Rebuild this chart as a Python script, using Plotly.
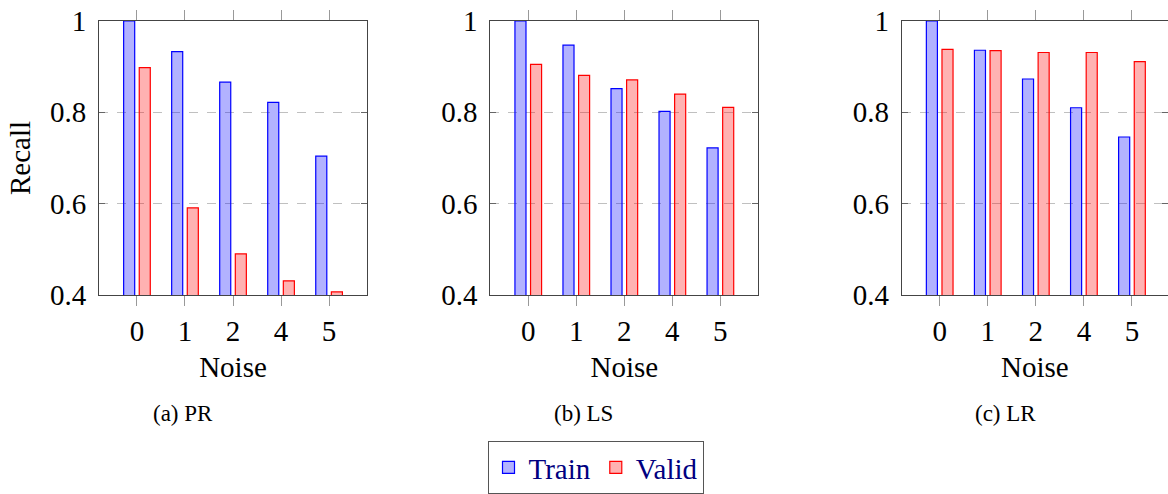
import plotly.graph_objects as go

categories = ["0", "1", "2", "4", "5"]
panel_titles = ["(a) PR", "(b) LS", "(c) LR"]
series_names = ["Train", "Valid"]

pr_train = [1.0, 0.933, 0.866, 0.822, 0.704]
pr_valid = [0.898, 0.591, 0.490, 0.431, 0.407]
ls_train = [1.0, 0.947, 0.852, 0.802, 0.722]
ls_valid = [0.905, 0.881, 0.871, 0.840, 0.811]
lr_train = [1.0, 0.936, 0.873, 0.810, 0.746]
lr_valid = [0.938, 0.935, 0.931, 0.931, 0.911]

y_tickvals = [0.4, 0.6, 0.8, 1.0]
y_ticktext = ["0.4", "0.6", "0.8", "1"]

W, H = 1168, 494
FONT = "Liberation Serif, Times New Roman, Times, serif"
FS = 29


def px_x(v):
    return v / W


def px_y(v):
    return 1 - v / H


panels = [(pr_train, pr_valid), (ls_train, ls_valid), (lr_train, lr_valid)]
x_px = [(99, 367), (490.3, 758.3), (901.7, 1170)]
x_ranges = [[-0.79, 4.79], [-0.79, 4.79], [-0.79, 4.75]]
y_dom = [px_y(295), px_y(21)]

fig = go.Figure()

for i, (tr, va) in enumerate(panels):
    ax = "" if i == 0 else str(i + 1)
    fig.add_trace(go.Bar(
        x=categories, y=tr, name=series_names[0], legendgroup="train",
        showlegend=(i == 0), width=0.23, offset=-0.277,
        marker=dict(color="rgba(0,0,255,0.3)", line=dict(color="#0000ff", width=1.2)),
        xaxis="x" + ax, yaxis="y" + ax,
    ))
    fig.add_trace(go.Bar(
        x=categories, y=va, name=series_names[1], legendgroup="valid",
        showlegend=(i == 0), width=0.23, offset=0.048,
        marker=dict(color="rgba(255,0,0,0.3)", line=dict(color="#ff0000", width=1.2)),
        xaxis="x" + ax, yaxis="y" + ax,
    ))
    xa = dict(
        domain=[px_x(x_px[i][0]), min(1.0, px_x(x_px[i][1]))], anchor="y" + ax,
        type="category", range=x_ranges[i], automargin=False,
        showline=True, linecolor="#444", linewidth=1, mirror="ticks",
        ticks="outside", ticklen=10, tickcolor="#999", tickwidth=1,
        showgrid=False, zeroline=False, ticklabeloverflow="allow",
        tickfont=dict(family=FONT, size=FS, color="black"),
        title=dict(text="Noise", font=dict(family=FONT, size=FS, color="black"), standoff=10),
    )
    ya = dict(
        domain=y_dom, anchor="x" + ax, range=[0.4, 1.0], automargin=False,
        tickvals=y_tickvals, ticktext=y_ticktext,
        showline=True, linecolor="#444", linewidth=1, mirror="ticks",
        ticks="inside", ticklen=6, tickcolor="#666", tickwidth=1,
        showgrid=True, gridcolor="#c0c0c0", griddash="dash", gridwidth=1,
        zeroline=False, ticklabeloverflow="allow",
        tickfont=dict(family=FONT, size=FS, color="black"),
        ticklabelstandoff=6,
    )
    if i == 0:
        ya["title"] = dict(text="Recall", font=dict(family=FONT, size=FS, color="black"), standoff=10)
    fig.layout["xaxis" + ax] = xa
    fig.layout["yaxis" + ax] = ya

caption_x = [183, 583, 1006]
for t, cx in zip(panel_titles, caption_x):
    fig.add_annotation(text=t, x=px_x(cx), y=px_y(413), xref="paper", yref="paper",
                       showarrow=False, xanchor="center", yanchor="middle",
                       font=dict(family=FONT, size=23, color="black"))

fig.update_layout(
    template="none",
    width=W, height=H,
    margin=dict(l=0, r=0, t=0, b=0, autoexpand=False),
    paper_bgcolor="white", plot_bgcolor="white",
    barmode="overlay",
    showlegend=True,
    legend=dict(
        orientation="h", x=px_x(595.5), xanchor="center", y=0.0, yanchor="bottom",
        bordercolor="#555", borderwidth=1, bgcolor="white",
        font=dict(family=FONT, size=29, color="#000080"),
        itemwidth=30, traceorder="normal",
    ),
)

fig.write_html(
    "out.html",
    config={"displayModeBar": False},
    post_script=(
        "document.body.style.margin='0px';"
        "document.body.style.overflow='hidden';"
        "document.documentElement.style.overflow='hidden';"
    ),
)
